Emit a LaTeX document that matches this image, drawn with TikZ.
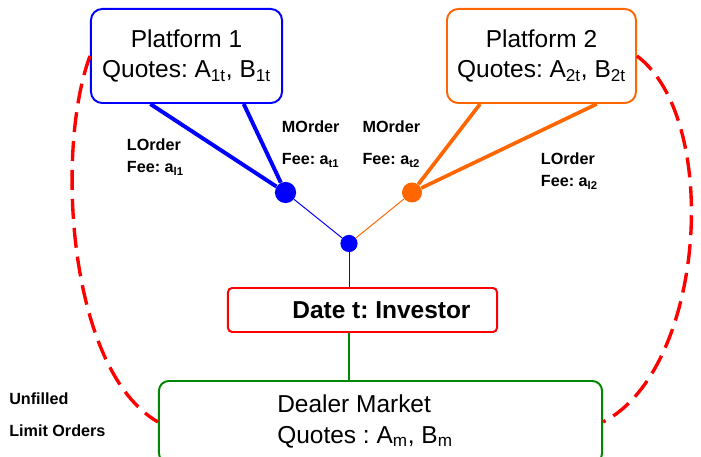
\documentclass[tikz,border=0pt]{standalone}
\usepackage{fontspec}
\setmainfont{Liberation Sans}
\usepackage{tikz}
\usetikzlibrary{positioning}
\definecolor{porange}{RGB}{255,102,0}
\definecolor{dgreen}{RGB}{0,136,0}
\frenchspacing
\tikzset{
  platform/.style={draw, line width=1.4pt, rounded corners=8pt, align=center,
    minimum height=2.35cm, font=\fontsize{17.4}{21.3}\selectfont},
  datebox/.style={draw=red, line width=1.4pt, rounded corners=3pt,
    minimum width=6.725cm, minimum height=1.1cm,
    font=\bfseries\fontsize{17.4}{21}\selectfont},
  dealerbox/.style={draw=dgreen, line width=1.4pt, rounded corners=7pt,
    minimum width=11.075cm, minimum height=2.05cm},
  dot/.style={circle, inner sep=0pt},
  lbl/.style={anchor=base west, inner sep=0pt, font=\bfseries\fontsize{11.5}{14}\selectfont},
  big/.style={anchor=base west, inner sep=0pt, font=\fontsize{17.4}{21}\selectfont},
  unfilled/.style={red, line width=2.4pt, dash pattern=on 14.2pt off 6.4pt}
}

\begin{document}
\begin{tikzpicture}[x=0.025cm, y=-0.025cm]
\useasboundingbox (0,0) rectangle (701,457);

% Boxes
\node[platform, draw=blue, minimum width=4.775cm] (plat1) at (186.5,56)
  {Platform 1\\Quotes: A\textsubscript{1t}, B\textsubscript{1t}};
\node[platform, draw=porange, minimum width=4.725cm] (plat2) at (541.5,56)
  {Platform 2\\Quotes: A\textsubscript{2t}, B\textsubscript{2t}};
\node[datebox] (investor) at (362.5,310) {\hspace*{1.55em}Date t: Investor};
\node[dealerbox] (dealer) at (380.5,422) {};
\node[big] (dealer1) at (277,412.7) {Dealer Market};
\node[big] (dealer2) at (277,443) {Quotes : A\textsubscript{m}, B\textsubscript{m}};

% Order nodes
\node[dot, fill=blue, minimum size=0.53cm] (mblue) at (285.5,192.5) {};
\node[dot, fill=porange, minimum size=0.5cm] (morange) at (412,192.5) {};
\node[dot, fill=blue, minimum size=0.43cm] (route) at (349,243.5) {};

% platform 1
\draw[blue, line width=2.8pt] (mblue) -- (plat1.233.5);
\draw[blue, line width=2.8pt] (mblue) -- (plat1.-40.4);
\draw[blue, line width=0.7pt] (mblue) -- (route);

% platform 2
\draw[porange, line width=2.6pt] (morange) -- (plat2.218.8);
\draw[porange, line width=2.6pt] (morange) -- (plat2.-41.3);
\draw[porange, line width=0.7pt] (morange) -- (route);

% investor and dealer
\draw[blue, line width=0.7pt] (route) -- (route |- investor.north);
\draw[dgreen, line width=1.6pt] (investor.south -| route) -- (dealer.north -| route);

% unfilled limit orders
\draw[unfilled] (plat1.west) .. controls (55,150) and (68,370) .. (dealer.west);
\draw[unfilled] (plat2.east) .. controls (722,120) and (705,370) .. (dealer.east);

% Labels
\node[lbl] (lorder1) at (126.7,150.7) {LOrder};
\node[lbl] (lfee1) at (126.7,172.7) {Fee: a\textsubscript{l1}};
\node[lbl] (morder1) at (281.7,132.7) {MOrder};
\node[lbl] (mfee1) at (281.7,165) {Fee: a\textsubscript{t1}};
\node[lbl] (morder2) at (362.3,132.7) {MOrder};
\node[lbl] (mfee2) at (362.3,165) {Fee: a\textsubscript{t2}};
\node[lbl] (lorder2) at (540.7,165) {LOrder};
\node[lbl] (lfee2) at (540.7,186.7) {Fee: a\textsubscript{l2}};
\node[lbl] (unf1) at (9,404) {Unfilled};
\node[lbl] (unf2) at (9,436.7) {Limit Orders};

\end{tikzpicture}
\end{document}
